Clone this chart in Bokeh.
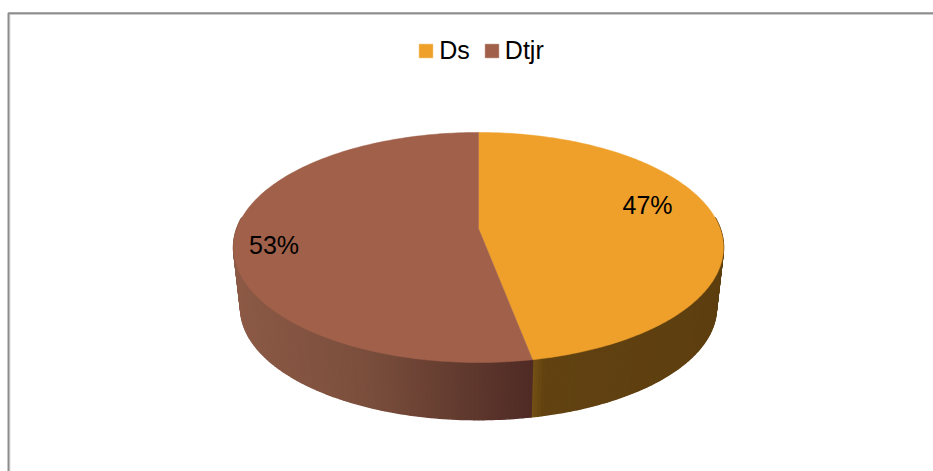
import numpy as np
from bokeh.core.properties import value
from bokeh.embed import file_html
from bokeh.models import Legend, LegendItem, Range1d
from bokeh.plotting import figure
from bokeh.resources import INLINE

categories = ["Ds", "Dtjr"]
shares = [47, 53]
slice_labels = ["47%", "53%"]
top_colors = ["#EFA02B", "#A0604A"]
side_stops = [[(0.0, "#755215"), (0.07, "#624211"), (1.0, "#5E3F10")],
              [(0.0, "#8C5A46"), (0.45, "#7A4E3C"), (1.0, "#4F2B25")]]

PERSP = 0.165
TOP = dict(cx=478.0, cy=228.0, a=111.9, b=241.6)
BOTTOM = dict(cx=478.0, cy=289.0, a=108.7, b=234.6)
FONT = "Liberation Sans"


def project(t, face):
    u, v = np.sin(t), np.cos(t)
    w = 1 + PERSP * v
    return face["cx"] + face["b"] * u / w, face["cy"] - face["a"] * v / w


def mix(stops, f):
    pos = [s[0] for s in stops]
    rgb = [[int(s[1][i:i + 2], 16) for s in stops] for i in (1, 3, 5)]
    return "#%02x%02x%02x" % tuple(int(round(np.interp(f, pos, c))) for c in rgb)


p = figure(width=933, height=471, output_backend="svg", toolbar_location=None,
           x_range=Range1d(0, 933), y_range=Range1d(471, 0), min_border=0,
           outline_line_color=None, background_fill_color="white")
p.axis.visible = False
p.grid.visible = False

# chart frame: only the top and left edges show in the crop
p.line([9.5, 9.5, 933], [471, 13.8, 13.8], line_color="#dddddd", line_width=1)
p.line([8, 8, 933], [471, 12.7, 12.7], line_color="#8c8c8c", line_width=2)

edges = 2 * np.pi * np.cumsum([0] + shares) / sum(shares)

# visible rim of each slice, as narrow overlapping strips, shaded left to right
spans = [(np.pi / 2 - 0.1, edges[1]), (edges[1], 3 * np.pi / 2 + 0.1)]
for i in (0, 1):
    ts = np.linspace(spans[i][0], spans[i][1], 120)
    x_all = project(ts, TOP)[0]
    xmin, xmax = x_all.min(), x_all.max()
    order = range(len(ts) - 1) if i == 1 else range(len(ts) - 2, -1, -1)
    for k in order:
        a, b = ts[k], ts[k + 1]
        xa, ya = project(a, TOP)
        xb, yb = project(b, TOP)
        xc, yc = project(b, BOTTOM)
        xd, yd = project(a, BOTTOM)
        f = ((xa + xb) / 2 - xmin) / (xmax - xmin)
        c = mix(side_stops[i], f)
        p.patch([xa, xb, xc, xd], [ya, yb, yc, yd], fill_color=c, line_color=c, line_width=1.5)

# top face
items = []
for i, cat in enumerate(categories):
    ts = np.linspace(edges[i], edges[i + 1], 180)
    xs, ys = project(ts, TOP)
    xs = np.r_[TOP["cx"], xs]
    ys = np.r_[TOP["cy"], ys]
    r = p.patch(xs, ys, fill_color=top_colors[i], line_color=top_colors[i], line_width=0.5)
    items.append(LegendItem(label=cat, renderers=[r]))

legend = Legend(items=items, orientation="horizontal", location=(417.3, 406),
                background_fill_alpha=0, border_line_color=None,
                glyph_width=17, glyph_height=17, label_standoff=5, spacing=13,
                label_text_font=FONT, label_text_font_size="25px",
                label_text_color="#000000", padding=0, margin=0)
p.add_layout(legend)

p.text([647, 273.5], [204, 244], text=slice_labels, text_align="center", text_baseline="middle",
       text_font=value(FONT), text_font_size="25px", text_color="#000000")

open("out.html", "w").write(file_html(p, INLINE))
